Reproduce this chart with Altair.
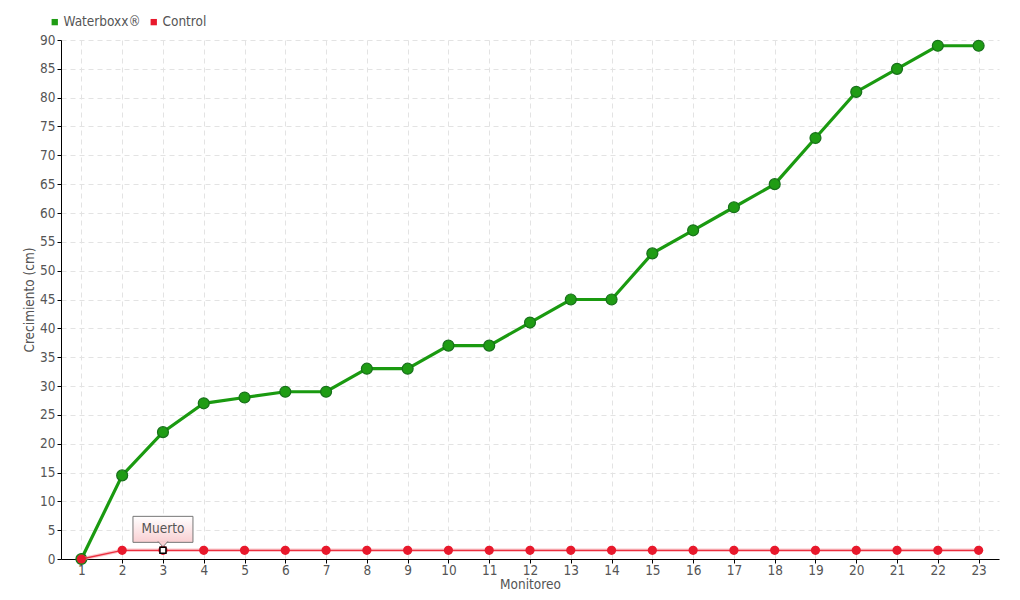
import altair as alt
import pandas as pd

monitoreo = list(range(1, 24))
waterboxx = [0, 14.5, 22, 27, 28, 29, 29, 33, 33, 37, 37, 41, 45, 45, 53, 57, 61, 65, 73, 81, 85, 89, 89]
control = [0] + [1.5] * 22
series = ["Waterboxx®", "Control"]
colors = ["#1f9c14", "#e8192c"]
y_ticks = list(range(0, 95, 5))
annot_x = [3]
annot_y = [1.5]
annot_text = ["Muerto"]

rows = []
for m, w in zip(monitoreo, waterboxx):
    rows.append({"Monitoreo": m, "Crecimiento": w, "Serie": series[0]})
for m, c in zip(monitoreo, control):
    rows.append({"Monitoreo": m, "Crecimiento": c, "Serie": series[1]})
df = pd.DataFrame(rows)
df_w = df[df["Serie"] == series[0]]
df_c = df[df["Serie"] == series[1]]
df_a = pd.DataFrame({"Monitoreo": annot_x, "Crecimiento": annot_y, "label": annot_text})

FONT = "DejaVu Sans Condensed, DejaVu Sans"
TXT = "#555555"
FS = 13.5

x = alt.X(
    "Monitoreo:O",
    scale=alt.Scale(type="point", padding=0.5),
    axis=alt.Axis(
        labelAngle=0, title="Monitoreo", titlePadding=1, labelPadding=0,
        grid=True, gridDash=[5, 4], gridColor="#e3e3e3",
        domainColor="#000000", tickColor="#000000", tickSize=4,
    ),
)
y = alt.Y(
    "Crecimiento:Q",
    scale=alt.Scale(domain=[0, 90], nice=False, zero=True),
    axis=alt.Axis(
        values=y_ticks, title="Crecimiento (cm)", titlePadding=3, labelPadding=2,
        grid=True, gridDash=[5, 4], gridColor="#e3e3e3",
        domainColor="#000000", tickColor="#000000", tickSize=4,
    ),
)
color = alt.Color(
    "Serie:N",
    scale=alt.Scale(domain=series, range=colors),
    sort=series,
    legend=alt.Legend(
        title=None, orient="none", legendX=-13, legendY=-25, direction="horizontal",
        symbolType="square", symbolSize=40, symbolStrokeWidth=0, labelFontSize=FS,
        labelFont=FONT, labelColor=TXT, columnPadding=6, labelOffset=2, padding=0,
    ),
)

green_line = alt.Chart(df_w).mark_line(color="#1a9a10", strokeWidth=3.2).encode(x=x, y=y)
green_pts = alt.Chart(df_w).mark_point(
    filled=True, size=120, stroke="#17701a", strokeWidth=1.2, opacity=1
).encode(x=x, y=y, color=color)
red_glow = alt.Chart(df_c).mark_line(color="#f7a3ab", strokeWidth=3.5, opacity=0.6).encode(x=x, y=y)
red_line = alt.Chart(df_c).mark_line(color="#ec3040", strokeWidth=1.3).encode(x=x, y=y)
red_pts = alt.Chart(df_c).mark_point(filled=True, size=85, opacity=1).encode(
    x=x, y=y, color=alt.Color("Serie:N", scale=alt.Scale(domain=series, range=colors), legend=None)
)

box = alt.Chart(df_a).mark_rect(
    width=60, height=26, yOffset=-21, stroke="#777777", strokeWidth=1,
    fill=alt.LinearGradient(
        gradient="linear", x1=0, y1=0, x2=0, y2=1,
        stops=[alt.GradientStop(color="#ffffff", offset=0), alt.GradientStop(color="#f9cfd2", offset=1)],
    ),
).encode(x=x, y=y)
pointer = alt.Chart(df_a).mark_point(
    shape="M-1,-0.6L0,0.5L1,-0.6", size=100, filled=True, fill="#f9cfd2",
    stroke="#777777", strokeWidth=1, opacity=1, yOffset=-6,
).encode(x=x, y=y)
label = alt.Chart(df_a).mark_text(
    font=FONT, fontSize=FS, color=TXT, yOffset=-21, baseline="middle", align="center"
).encode(x=x, y=y, text="label:N")
marker = alt.Chart(df_a).mark_point(
    shape="square", size=36, filled=True, fill="#ffffff", stroke="#000000", strokeWidth=1.5, opacity=1
).encode(x=x, y=y)

chart = alt.layer(
    green_line, green_pts, red_glow, red_line, red_pts, box, pointer, label, marker
).properties(
    width=938, height=519,
    autosize=alt.AutoSizeParams(type="none"),
    padding={"left": 53, "top": 32, "right": 13, "bottom": 33},
).configure_axis(
    labelFont=FONT, titleFont=FONT, labelFontSize=FS, titleFontSize=FS,
    labelColor=TXT, titleColor=TXT, titleFontWeight="normal",
).configure_view(stroke=None)

chart.save("out.html", embed_options={"renderer": "svg", "actions": False})
